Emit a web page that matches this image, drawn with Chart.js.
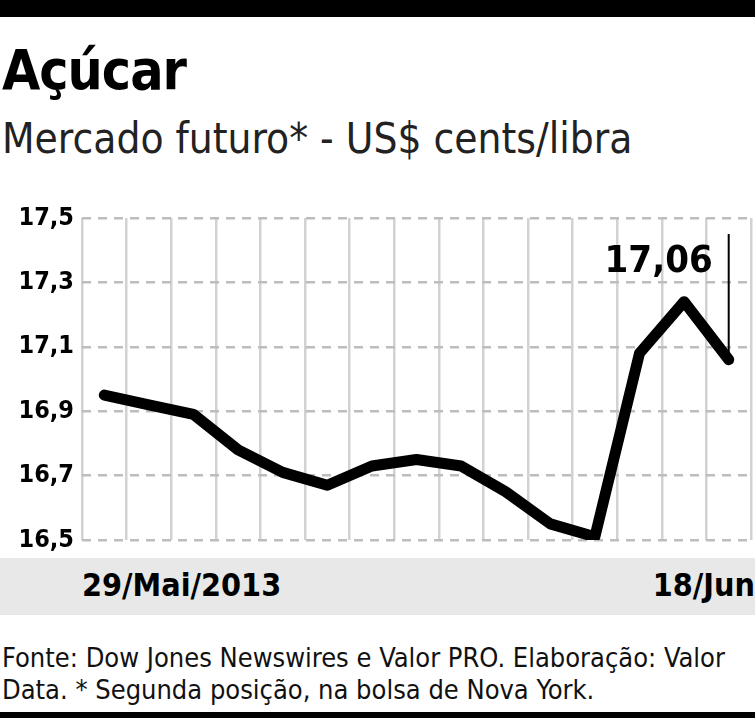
<!DOCTYPE html>
<html><head><meta charset="utf-8">
<script src="https://cdn.jsdelivr.net/npm/chart.js@4"></script>
<style>
body{margin:0;width:755px;height:718px;position:relative;background:#fff;overflow:hidden;font-family:"DejaVu Sans Condensed","DejaVu Sans",sans-serif;}
.abs{position:absolute;white-space:nowrap;}
#wrap{position:absolute;left:0;top:0;width:755px;height:718px;}
</style></head><body>
<div class="abs" style="left:0;top:0;width:755px;height:17px;background:#000"></div>
<div class="abs" style="left:2px;top:38px;font-size:55px;font-weight:bold;letter-spacing:-1px;">Açúcar</div>
<div class="abs" style="left:2px;top:114px;font-size:42px;color:#222;">Mercado futuro* - US$ cents/libra</div>
<div class="abs" style="left:0;top:558px;width:755px;height:57px;background:#e8e8e8"></div>
<div class="abs" style="left:82px;top:566px;font-size:32px;font-weight:bold;">29/Mai/2013</div>
<div class="abs" style="right:0;top:566px;font-size:32px;font-weight:bold;">18/Jun</div>
<div class="abs" style="left:2px;top:642px;font-size:27px;line-height:32px;color:#111;">Fonte: Dow Jones Newswires e Valor PRO. Elaboração: Valor<br>Data. * Segunda posição, na bolsa de Nova York.</div>
<div class="abs" style="left:0;top:712px;width:755px;height:6px;background:#000"></div>
<div id="wrap"><canvas id="c"></canvas></div>
<script>
const dates = ["29/05","30/05","31/05","03/06","04/06","05/06","06/06","07/06","10/06","11/06","12/06","13/06","14/06","17/06","18/06"];
const prices = [16.95,16.92,16.89,16.78,16.71,16.67,16.73,16.75,16.73,16.65,16.55,16.51,17.08,17.24,17.06];
const yTicks = [16.5,16.7,16.9,17.1,17.3,17.5];
const lastLabel = "17,06";
const FONT='"DejaVu Sans Condensed","DejaVu Sans",sans-serif';

const annot = {
  id:'annot',
  afterDatasetsDraw(chart){
    const ctx=chart.ctx, xs=chart.scales.x, ys=chart.scales.y;
    const i=prices.length-1;
    const x=xs.getPixelForValue(i), y=ys.getPixelForValue(prices[i]);
    ctx.save();
    ctx.strokeStyle='#000';ctx.lineWidth=2;
    ctx.beginPath();ctx.moveTo(x,234);ctx.lineTo(x,y);ctx.stroke();
    ctx.font='bold 38px '+FONT;
    ctx.fillStyle='#000';ctx.textAlign='right';ctx.textBaseline='alphabetic';
    ctx.fillText(lastLabel,x-16,272);
    ctx.restore();
  }
};

new Chart(document.getElementById('c'),{
  type:'line',
  data:{labels:dates,datasets:[{data:prices,borderColor:'#000',borderWidth:11,pointRadius:0,tension:0,borderJoinStyle:'round',borderCapStyle:'round',fill:false}]},
  options:{
    responsive:true,maintainAspectRatio:false,animation:false,
    layout:{padding:{top:218,bottom:178,right:4,left:0}},
    plugins:{legend:{display:false},tooltip:{enabled:false}},
    scales:{
      x:{display:true,offset:true,
        grid:{offset:true,color:'#d2d2d2',lineWidth:2.5,drawTicks:false},
        border:{display:false},
        ticks:{display:false}},
      y:{min:16.5,max:17.5,
        afterFit(s){s.width=82;},
        afterBuildTicks(s){s.ticks=yTicks.map(v=>({value:v}));},
        grid:{color:'#bdbdbd',lineWidth:2.5,drawTicks:false},
        border:{display:false,dash:[9,7]},
        ticks:{color:'#000',padding:8,font:{family:FONT,size:25,weight:'bold'},
          callback:v=>v.toFixed(1).replace('.',',')}}
    }
  },
  plugins:[annot]
});
</script>
</body></html>
